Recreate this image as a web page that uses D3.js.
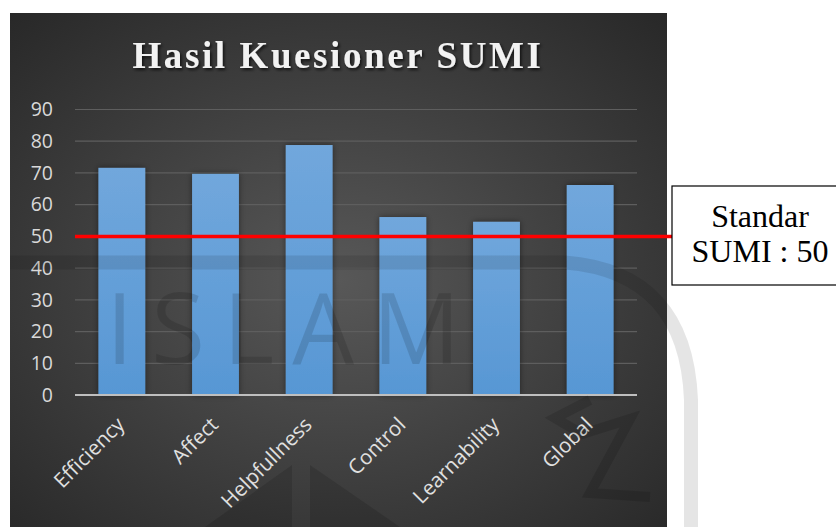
<!DOCTYPE html>
<html><head><meta charset="utf-8">
<script src="https://cdn.jsdelivr.net/npm/d3@7"></script>
<style>html,body{margin:0;padding:0;background:#fff;}svg{display:block;}</style>
</head><body>
<svg id="c" width="836" height="527"></svg>
<script>
const categories = ["Efficiency","Affect","Helpfullness","Control","Learnability","Global"];
const values = [71.6, 69.7, 78.8, 56.1, 54.6, 66.2];
const yTicks = [0,10,20,30,40,50,60,70,80,90];
const standard = 50;
const titleText = "Hasil Kuesioner SUMI";
const noteLines = ["Standar","SUMI : 50"];

const svg = d3.select("#c");
const defs = svg.append("defs");

const bg = defs.append("radialGradient").attr("id","bg")
  .attr("cx",0.5).attr("cy",0.52).attr("r",0.75);
bg.append("stop").attr("offset","0%").attr("stop-color","#585858");
bg.append("stop").attr("offset","100%").attr("stop-color","#262626");

const bar = defs.append("linearGradient").attr("id","bar").attr("x1",0).attr("y1",0).attr("x2",0).attr("y2",1);
bar.append("stop").attr("offset","0%").attr("stop-color","#71a7dc");
bar.append("stop").attr("offset","100%").attr("stop-color","#5797d4");

const sh = defs.append("filter").attr("id","sh").attr("x","-20%").attr("y","-20%").attr("width","140%").attr("height","140%");
sh.append("feDropShadow").attr("dx",0).attr("dy",0).attr("stdDeviation",3).attr("flood-color","#000").attr("flood-opacity",0.45);
const tsh = defs.append("filter").attr("id","tsh");
tsh.append("feDropShadow").attr("dx",1.5).attr("dy",2).attr("stdDeviation",1.5).attr("flood-color","#000").attr("flood-opacity",0.7);

const chart = {x:10, y:13, w:657, h:514};
svg.append("rect").attr("x",chart.x).attr("y",chart.y).attr("width",chart.w).attr("height",chart.h).attr("fill","url(#bg)");

const x = d3.scaleBand().domain(categories).range([75,637]).paddingInner(0.5).paddingOuter(0.25);
const y = d3.scaleLinear().domain([0,90]).range([395,109.5]);

// gridlines
svg.append("g").selectAll("line").data(yTicks.filter(d=>d>0)).join("line")
  .attr("x1",75).attr("x2",637).attr("y1",d=>y(d)).attr("y2",d=>y(d))
  .attr("stroke","#5e5e5e").attr("stroke-width",1.2);

// y axis labels
const yAxis = d3.axisLeft(y).tickValues(yTicks).tickSize(0).tickPadding(0);
const gy = svg.append("g").attr("transform","translate(53,0)").call(yAxis);
gy.select(".domain").remove();
gy.attr("font-size",null).attr("font-family",null);
gy.selectAll("text").attr("fill","#d9d9d9").style("font-family","'Open Sans', sans-serif").style("font-size","19.5px");

// bars
svg.append("g").selectAll("rect").data(values).join("rect")
  .attr("x",(d,i)=>x(categories[i])).attr("width",x.bandwidth())
  .attr("y",d=>y(d)).attr("height",d=>y(0)-y(d))
  .attr("fill","url(#bar)").attr("filter","url(#sh)");

// baseline
svg.append("line").attr("x1",75).attr("x2",637).attr("y1",y(0)).attr("y2",y(0))
  .attr("stroke","#bfbfbf").attr("stroke-width",2);

// x labels
const xAxis = d3.axisBottom(x).tickSize(0).tickPadding(0);
const gx = svg.append("g").attr("transform",`translate(0,${y(0)})`).call(xAxis);
gx.select(".domain").remove();
gx.attr("font-size",null).attr("font-family",null);
gx.selectAll("text")
  .attr("fill","#e0e0e0").style("font-family","'Open Sans', sans-serif").style("font-size","20.5px")
  .attr("text-anchor","end").attr("dy",null).attr("y",0)
  .attr("transform","translate(4,31) rotate(-45)");

// title
svg.append("text").attr("x",338).attr("y",68).attr("text-anchor","middle")
  .attr("font-family","'Liberation Serif', 'Times New Roman', serif").attr("font-weight","bold")
  .attr("font-size","37px").attr("letter-spacing","2.6px").attr("fill","#f2f2f2")
  .attr("filter","url(#tsh)").text(titleText);

// watermark (document overlay)
const wm = svg.append("g").attr("fill","#000").attr("fill-opacity",0.13).attr("stroke","none");
wm.append("text").attr("x",106).attr("y",364).attr("font-family","'Open Sans', sans-serif")
  .attr("font-size","98px").attr("letter-spacing","18px").text("ISLAM");
wm.append("path").attr("d","M292,465 L205,527 L292,527 Z");
wm.append("path").attr("d","M310,465 L400,527 L310,527 Z");
svg.append("path").attr("d","M10,262.5 L565,262.5 Q686,272 691,400 L691,527")
  .attr("fill","none").attr("stroke","#000").attr("stroke-opacity",0.1).attr("stroke-width",14);
svg.append("path").attr("d","M590,400 L555,418 L582,434 L630,419 L590,493 L650,497")
  .attr("fill","none").attr("stroke","#000").attr("stroke-opacity",0.13).attr("stroke-width",10);

// standard line
svg.append("line").attr("x1",75).attr("x2",672).attr("y1",y(standard)).attr("y2",y(standard))
  .attr("stroke","#ff0000").attr("stroke-width",3.5);

// note box
svg.append("rect").attr("x",672).attr("y",186).attr("width",170).attr("height",99)
  .attr("fill","#fff").attr("stroke","#000").attr("stroke-width",1.2);
svg.append("g").selectAll("text").data(noteLines).join("text")
  .attr("x",760).attr("y",(d,i)=>227+i*35).attr("text-anchor","middle")
  .attr("font-family","'Liberation Serif', 'Times New Roman', serif").attr("font-size","32px")
  .attr("fill","#000").text(d=>d);
</script>
</body></html>
